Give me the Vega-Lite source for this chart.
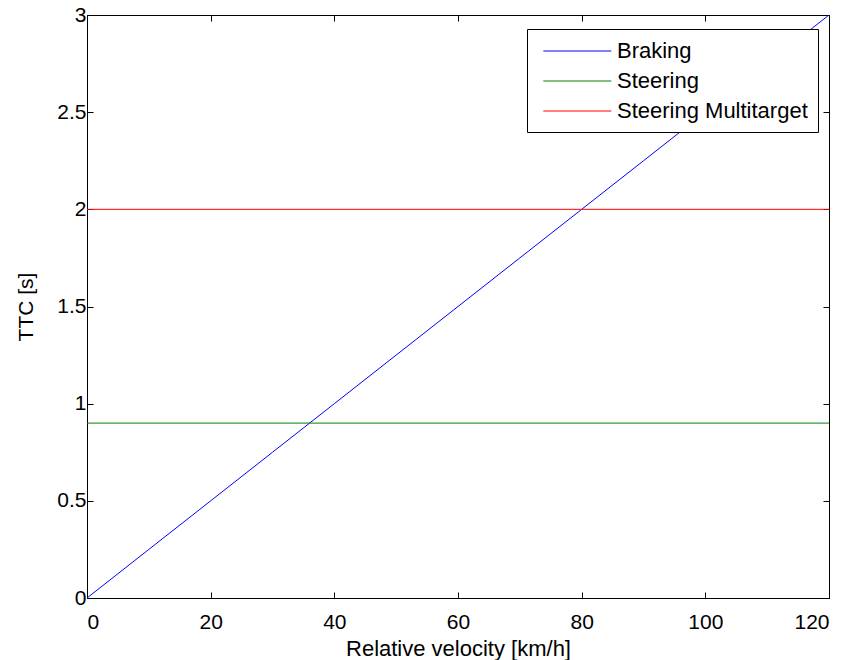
{
  "$schema": "https://vega.github.io/schema/vega-lite/v6.json",
  "width": 742,
  "height": 583,
  "autosize": {"type": "none"},
  "padding": {"left": 87, "top": 15, "right": 21, "bottom": 62},
  "background": "white",
  "config": {
    "font": "Liberation Sans",
    "view": {"stroke": "black", "strokeWidth": 1},
    "axis": {
      "domainColor": "black",
      "tickColor": "black",
      "labelColor": "black",
      "titleColor": "black",
      "labelFontSize": 21,
      "titleFontSize": 22,
      "titleFontWeight": "normal",
      "grid": false,
      "tickSize": -6,
      "labelPadding": 7
    }
  },
  "data": {
    "values": [
      {"series": "Braking", "v": 0, "ttc": 0},
      {"series": "Braking", "v": 10, "ttc": 0.25},
      {"series": "Braking", "v": 20, "ttc": 0.5},
      {"series": "Braking", "v": 30, "ttc": 0.75},
      {"series": "Braking", "v": 40, "ttc": 1.0},
      {"series": "Braking", "v": 50, "ttc": 1.25},
      {"series": "Braking", "v": 60, "ttc": 1.5},
      {"series": "Braking", "v": 70, "ttc": 1.75},
      {"series": "Braking", "v": 80, "ttc": 2.0},
      {"series": "Braking", "v": 90, "ttc": 2.25},
      {"series": "Braking", "v": 100, "ttc": 2.5},
      {"series": "Braking", "v": 110, "ttc": 2.75},
      {"series": "Braking", "v": 120, "ttc": 3.0},
      {"series": "Steering", "v": 0, "ttc": 0.9},
      {"series": "Steering", "v": 120, "ttc": 0.9},
      {"series": "Steering Multitarget", "v": 0, "ttc": 2.0},
      {"series": "Steering Multitarget", "v": 120, "ttc": 2.0}
    ]
  },
  "resolve": {"axis": {"x": "independent", "y": "independent"}},
  "layer": [
    {
      "mark": {"type": "line", "strokeWidth": 1, "clip": true},
      "encoding": {
        "x": {
          "field": "v", "type": "quantitative",
          "scale": {"domain": [0, 120], "nice": false, "zero": false},
          "axis": {"title": "Relative velocity [km/h]", "format": "d", "values": [0, 20, 40, 60, 80, 100, 120], "titlePadding": 6, "labelPadding": 19}
        },
        "y": {
          "field": "ttc", "type": "quantitative",
          "scale": {"domain": [0, 3], "nice": false, "zero": false},
          "axis": {"title": "TTC [s]", "titleFontSize": 21, "format": "~g", "values": [0, 0.5, 1, 1.5, 2, 2.5, 3], "titlePadding": 20}
        },
        "color": {
          "field": "series", "type": "nominal",
          "scale": {"domain": ["Braking", "Steering", "Steering Multitarget"], "range": ["#0000ff", "#008000", "#ff0000"]},
          "legend": {
            "title": null,
            "orient": "none",
            "legendX": 440,
            "legendY": 14,
            "strokeColor": "black",
            "fillColor": "white",
            "padding": 10,
            "symbolType": "M-0.5,0H5.5",
            "symbolSize": 514,
            "symbolStrokeWidth": 1,
            "labelFontSize": 22,
            "labelColor": "black",
            "labelOffset": 56,
            "labelLimit": 400,
            "rowPadding": 7,
            "encode": {
              "symbols": {"update": {"stroke": {"scale": "color", "field": "value"}}}
            }
          }
        }
      }
    },
    {
      "mark": {"type": "line", "strokeWidth": 1, "opacity": 0},
      "encoding": {
        "x": {"field": "v", "type": "quantitative", "axis": {"orient": "top", "title": null, "labels": false, "values": [0, 20, 40, 60, 80, 100, 120]}},
        "y": {"field": "ttc", "type": "quantitative", "axis": {"orient": "right", "title": null, "labels": false, "values": [0, 0.5, 1, 1.5, 2, 2.5, 3]}},
        "detail": {"field": "series"}
      }
    }
  ]
}
